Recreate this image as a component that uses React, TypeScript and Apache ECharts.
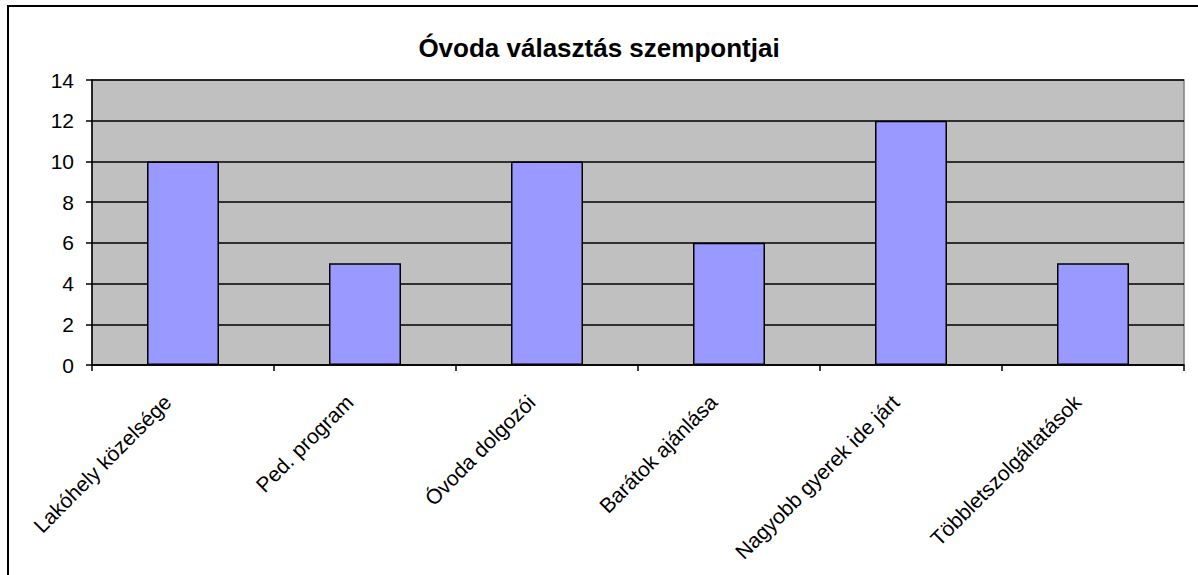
import React, { useEffect, useRef } from "react";
import * as echarts from "echarts";

const categories = [
  "Lakóhely közelsége",
  "Ped. program",
  "Óvoda dolgozói",
  "Barátok ajánlása",
  "Nagyobb gyerek ide járt",
  "Többletszolgáltatások",
];
const values = [10, 5, 10, 6, 12, 5];
const yTicks = { min: 0, max: 14, interval: 2 };
const titleText = "Óvoda választás szempontjai";

export default function App() {
  const ref = useRef<HTMLDivElement>(null);
  useEffect(() => {
    if (!ref.current) return;
    const chart = echarts.init(ref.current, null, { renderer: "svg" });
    const font = "'Liberation Sans', Arial, sans-serif";
    chart.setOption({
      animation: false,
      backgroundColor: "#ffffff",
      title: {
        text: titleText,
        left: "center",
        top: 30,
        textStyle: {
          fontFamily: font,
          fontWeight: "bold",
          fontSize: 26,
          color: "#000",
        },
      },
      graphic: [
        {
          type: "rect",
          shape: { x: 8, y: 6, width: 1400, height: 800 },
          style: { fill: "none", stroke: "#000", lineWidth: 2 },
          silent: true,
        },
      ],
      grid: {
        left: 92,
        top: 80,
        right: 14,
        bottom: 210,
        show: true,
        backgroundColor: "#C0C0C0",
        borderColor: "#808080",
        borderWidth: 1.5,
      },
      xAxis: {
        type: "category",
        data: categories,
        axisLine: { show: true, lineStyle: { color: "#000", width: 1.5 } },
        axisTick: { show: true, length: 6, lineStyle: { color: "#000", width: 1.5 } },
        axisLabel: {
          rotate: 45,
          interval: 0,
          margin: 18,
          padding: [0, 22, 0, 0],
          fontFamily: font,
          fontSize: 21,
          color: "#000",
        },
      },
      yAxis: {
        type: "value",
        min: yTicks.min,
        max: yTicks.max,
        interval: yTicks.interval,
        axisLine: { show: true, lineStyle: { color: "#000", width: 1.5 } },
        axisTick: { show: true, length: 6, lineStyle: { color: "#000", width: 1.5 } },
        splitLine: { show: true, lineStyle: { color: "#000", width: 1.5 } },
        axisLabel: {
          margin: 18,
          fontFamily: font,
          fontSize: 21,
          color: "#000",
        },
      },
      series: [
        {
          type: "bar",
          data: values,
          barWidth: 72,
          itemStyle: { color: "#9999FF", borderColor: "#000", borderWidth: 1.5 },
        },
      ],
    });
    return () => chart.dispose();
  }, []);
  return (
    <div
      ref={ref}
      style={{ position: "fixed", left: 0, top: 0, width: 1198, height: 575 }}
    />
  );
}
